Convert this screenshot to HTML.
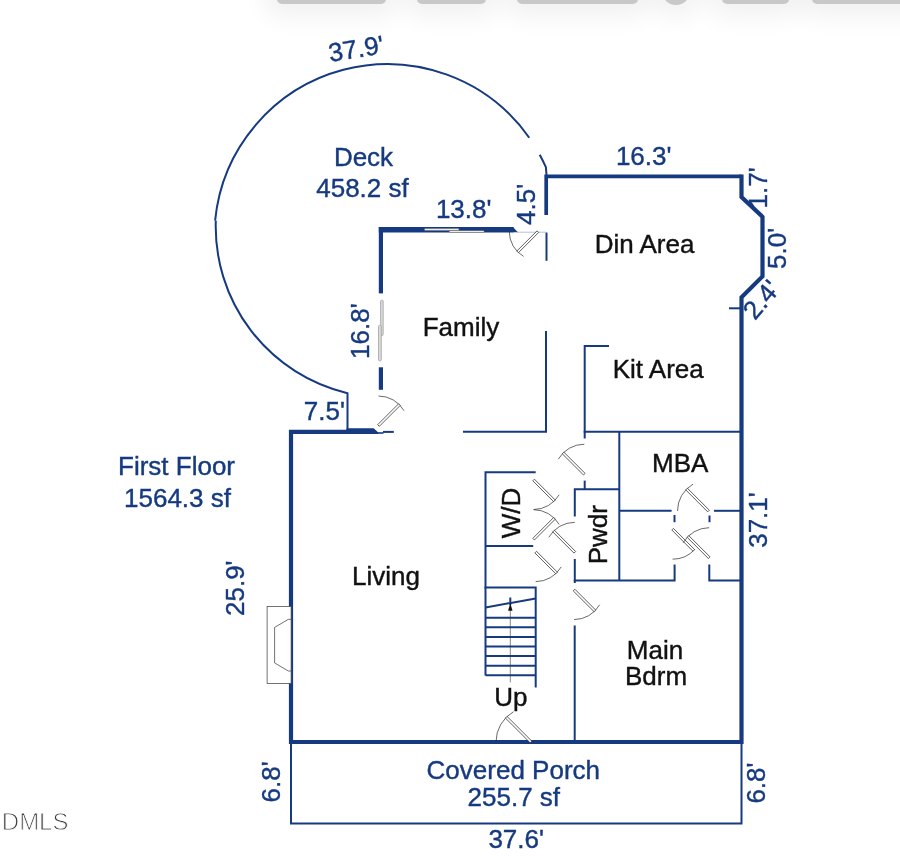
<!DOCTYPE html>
<html lang="en"><head><meta charset="utf-8"><title>First Floor Plan</title>
<style>
html,body{margin:0;padding:0;background:#fff;}
body{width:900px;height:861px;overflow:hidden;position:relative;font-family:"Liberation Sans",sans-serif;}
.top{position:absolute;left:0;top:0;width:900px;height:60px;overflow:hidden;}
.pill{position:absolute;top:-30px;height:34px;border-radius:5px;background:#c8c8c8;box-shadow:0 0 26px 12px rgba(0,0,0,0.06);}
svg{position:absolute;left:0;top:0;will-change:transform;}
svg text{font-family:"Liberation Sans",sans-serif;}
</style></head><body>
<div class="top">
<div class="pill" style="left:277px;width:109px"></div>
<div class="pill" style="left:417px;width:69px"></div>
<div class="pill" style="left:517px;width:121px"></div>
<div class="pill" style="left:662px;width:28px;height:35px;border-radius:14px"></div>
<div class="pill" style="left:722px;width:67px"></div>
<div class="pill" style="left:812px;width:120px"></div>
</div>
<svg width="900" height="861" viewBox="0 0 900 861">
<g fill="none" stroke="#163a80" stroke-width="2" stroke-linecap="butt" stroke-linejoin="miter">
<path d="M215.11 220.59A173.20 173.20 0 0 1 529.26 137.79"/>
<path d="M539.73 154.69A173.20 173.20 0 0 1 545.89 167.22 L546.6 176"/>
<path d="M215.80 220.62A171.30 171.30 0 0 0 347.50 393.18 L347.5 431"/>
<path d="M291 742V823.5H741.5V742"/>
<path d="M546 331V431.8H463"/>
<path d="M546.5 232.5V260.8"/>
<path d="M609 346H584.7V438.5"/>
<path d="M583.7 431.8H741"/>
<path d="M729 308.3H741"/>
<path d="M619.3 431.8V580.5"/>
<path d="M584.7 480.6V489.2"/>
<path d="M574.8 516.6V489.2H619.3"/>
<path d="M574.8 559V583"/>
<path d="M573.8 580.5H674.6V564.6"/>
<path d="M709.3 564.6V580.5H741"/>
<path d="M619.3 510.8H671.6"/>
<path d="M714 510.8H741"/>
<path d="M674.5 515V522.2"/>
<path d="M709.5 515.5V522.2"/>
<path d="M535.7 472.3H485.5V675.5"/>
<path d="M485.5 545.9H533.2"/>
<path d="M484.5 587.6H535.7V687.5"/>
<path d="M485.5 607.4L535.7 598.6"/>
<path d="M485.5 617.80H535.7"/>
<path d="M485.5 627.37H535.7"/>
<path d="M485.5 636.94H535.7"/>
<path d="M485.5 646.51H535.7"/>
<path d="M485.5 656.08H535.7"/>
<path d="M485.5 665.65H535.7"/>
<path d="M485.5 675.22H535.7"/>
<path d="M510.3 597.5V605"/>
<path d="M574.7 625.5V742"/>
<path d="M377.5 433H383.5" stroke-width="1.6"/>
<path d="M383 431.9H393.8"/>
</g>
<path d="M517 232.2H546" stroke="#9fb4d8" stroke-width="0.8" fill="none"/>
<g fill="none" stroke="#163a80" stroke-width="4.2" stroke-linecap="butt" stroke-linejoin="miter">
<path d="M741.5 742H291V431.8H348"/>
<path d="M380.9 293.4V227"/>
<path d="M378.8 229.7H513.5" stroke-width="5.4"/>
<path d="M380.9 367.3V389.8"/>
<path d="M546.2 215V176.3H741.5" stroke-width="3.7"/>
<path d="M741.5 174.45V197L762.5 216.8V276.4L741.5 297.3V744.1"/>
</g>
<path d="M513 227L517.8 232.2H513Z" fill="#163a80"/>
<path d="M346.5 428.3H373.7L378.3 432.5V433.9H346.5Z" fill="#163a80"/>
<g fill="#fff" stroke="#666" stroke-width="0.6">
<rect x="424.5" y="228.6" width="34.4" height="1.8" rx="0.6"/>
<rect x="449.3" y="230.7" width="34.8" height="1.8" rx="0.6"/>
</g>
<g fill="#dadada" stroke="#999" stroke-width="0.7">
<rect x="380.6" y="300.2" width="2.6" height="35.3" rx="1"/>
<rect x="378.5" y="325.4" width="2.8" height="35.4" rx="1"/>
</g>
<rect x="267.1" y="606.5" width="24" height="76.9" fill="#fff" stroke="#444" stroke-width="0.75"/>
<path d="M291 619.4H288.3L274.6 627.4V662.9L288.3 671H291" fill="none" stroke="#444" stroke-width="0.75"/>
<path d="M584.30 444.20A30.00 30.00 0 0 0 558.32 459.20" fill="none" stroke="#2a2a2a" stroke-width="0.7"/>
<rect x="0" y="-1.15" width="30.00" height="2.30" fill="#fff" stroke="#2a2a2a" stroke-width="0.7" transform="translate(584.30 474.20) rotate(-135.00)"/>
<path d="M533.60 509.50A29.50 29.50 0 0 0 559.15 494.75" fill="none" stroke="#2a2a2a" stroke-width="0.7"/>
<rect x="0" y="-1.15" width="29.50" height="2.30" fill="#fff" stroke="#2a2a2a" stroke-width="0.7" transform="translate(533.60 480.00) rotate(45.00)"/>
<path d="M533.60 509.70A29.50 29.50 0 0 1 559.15 524.45" fill="none" stroke="#2a2a2a" stroke-width="0.7"/>
<rect x="0" y="-1.15" width="29.50" height="2.30" fill="#fff" stroke="#2a2a2a" stroke-width="0.7" transform="translate(533.60 539.20) rotate(-45.00)"/>
<path d="M574.80 522.30A30.00 30.00 0 0 0 548.82 537.30" fill="none" stroke="#2a2a2a" stroke-width="0.7"/>
<rect x="0" y="-1.15" width="30.00" height="2.30" fill="#fff" stroke="#2a2a2a" stroke-width="0.7" transform="translate(574.80 552.30) rotate(-135.00)"/>
<path d="M535.70 581.60A29.50 29.50 0 0 0 561.25 566.85" fill="none" stroke="#2a2a2a" stroke-width="0.7"/>
<rect x="0" y="-1.15" width="29.50" height="2.30" fill="#fff" stroke="#2a2a2a" stroke-width="0.7" transform="translate(535.70 552.10) rotate(45.00)"/>
<path d="M574.00 619.60A29.60 29.60 0 0 0 599.63 604.80" fill="none" stroke="#2a2a2a" stroke-width="0.7"/>
<rect x="0" y="-1.15" width="29.60" height="2.30" fill="#fff" stroke="#2a2a2a" stroke-width="0.7" transform="translate(574.00 590.00) rotate(45.00)"/>
<path d="M496.00 742.00A35.00 35.00 0 0 1 513.50 711.69" fill="none" stroke="#2a2a2a" stroke-width="0.7"/>
<rect x="0" y="-1.15" width="35.00" height="2.30" fill="#fff" stroke="#2a2a2a" stroke-width="0.7" transform="translate(531.00 742.00) rotate(225.00)"/>
<path d="M677.50 511.00A31.00 31.00 0 0 1 693.00 484.15" fill="none" stroke="#2a2a2a" stroke-width="0.7"/>
<rect x="0" y="-1.15" width="31.00" height="2.30" fill="#fff" stroke="#2a2a2a" stroke-width="0.7" transform="translate(708.50 511.00) rotate(225.00)"/>
<path d="M672.60 559.20A30.00 30.00 0 0 0 694.89 549.27" fill="none" stroke="#2a2a2a" stroke-width="0.7"/>
<rect x="0" y="-1.15" width="30.00" height="2.30" fill="#fff" stroke="#2a2a2a" stroke-width="0.7" transform="translate(672.60 529.20) rotate(45.00)"/>
<path d="M709.20 527.70A30.00 30.00 0 0 0 683.22 542.70" fill="none" stroke="#2a2a2a" stroke-width="0.7"/>
<rect x="0" y="-1.15" width="30.00" height="2.30" fill="#fff" stroke="#2a2a2a" stroke-width="0.7" transform="translate(709.20 557.70) rotate(-135.00)"/>
<path d="M509.30 231.70A28.50 28.50 0 0 0 523.55 256.38" fill="none" stroke="#2a2a2a" stroke-width="0.7"/>
<rect x="0" y="-1.15" width="28.50" height="2.30" fill="#fff" stroke="#2a2a2a" stroke-width="0.7" transform="translate(537.80 231.70) rotate(135.00)"/>
<path d="M378.50 396.00A29.50 29.50 0 0 1 404.05 410.75" fill="none" stroke="#2a2a2a" stroke-width="0.7"/>
<rect x="0" y="-1.15" width="29.50" height="2.30" fill="#fff" stroke="#2a2a2a" stroke-width="0.7" transform="translate(378.50 425.50) rotate(-45.00)"/>
<path d="M510.3 682.4V609" stroke="#333" stroke-width="0.6" fill="none"/>
<path d="M510.3 603L512.5 610.7H508.1Z" fill="#111"/>
<text x="330" y="62" fill="#163a80" stroke="#163a80" stroke-width="0.4" font-size="26" text-anchor="start" transform="rotate(-9.2 330 62)">37.9'</text>
<text x="363.5" y="165.5" fill="#163a80" stroke="#163a80" stroke-width="0.4" font-size="26" text-anchor="middle">Deck</text>
<text x="362.5" y="197" fill="#163a80" stroke="#163a80" stroke-width="0.4" font-size="26" text-anchor="middle">458.2 sf</text>
<text x="463.7" y="218" fill="#163a80" stroke="#163a80" stroke-width="0.4" font-size="26" text-anchor="middle">13.8'</text>
<text x="534.5" y="225" fill="#163a80" stroke="#163a80" stroke-width="0.4" font-size="26" text-anchor="start" transform="rotate(-90 534.5 225)">4.5'</text>
<text x="643.7" y="165.3" fill="#163a80" stroke="#163a80" stroke-width="0.4" font-size="26" text-anchor="middle">16.3'</text>
<text x="766.5" y="208.5" fill="#163a80" stroke="#163a80" stroke-width="0.4" font-size="26" text-anchor="start" transform="rotate(-90 766.5 208.5)">1.7'</text>
<text x="786.4" y="269" fill="#163a80" stroke="#163a80" stroke-width="0.4" font-size="26" text-anchor="start" transform="rotate(-90 786.4 269)">5.0'</text>
<text x="755" y="321" fill="#163a80" stroke="#163a80" stroke-width="0.4" font-size="26" text-anchor="start" transform="rotate(-50 755 321)">2.4'</text>
<text x="369.5" y="358.9" fill="#163a80" stroke="#163a80" stroke-width="0.4" font-size="26" text-anchor="start" transform="rotate(-90 369.5 358.9)">16.8'</text>
<text x="324.3" y="420.2" fill="#163a80" stroke="#163a80" stroke-width="0.4" font-size="26" text-anchor="middle">7.5'</text>
<text x="176.5" y="475.2" fill="#163a80" stroke="#163a80" stroke-width="0.4" font-size="26" text-anchor="middle">First Floor</text>
<text x="177.5" y="507" fill="#163a80" stroke="#163a80" stroke-width="0.4" font-size="26" text-anchor="middle">1564.3 sf</text>
<text x="243.5" y="616" fill="#163a80" stroke="#163a80" stroke-width="0.4" font-size="26" text-anchor="start" transform="rotate(-90 243.5 616)">25.9'</text>
<text x="280" y="802.5" fill="#163a80" stroke="#163a80" stroke-width="0.4" font-size="26" text-anchor="start" transform="rotate(-90 280 802.5)">6.8'</text>
<text x="765.3" y="803.6" fill="#163a80" stroke="#163a80" stroke-width="0.4" font-size="26" text-anchor="start" transform="rotate(-90 765.3 803.6)">6.8'</text>
<text x="766.8" y="547.8" fill="#163a80" stroke="#163a80" stroke-width="0.4" font-size="26" text-anchor="start" transform="rotate(-90 766.8 547.8)">37.1'</text>
<text x="513.3" y="779" fill="#163a80" stroke="#163a80" stroke-width="0.4" font-size="26" text-anchor="middle">Covered Porch</text>
<text x="513.8" y="805.8" fill="#163a80" stroke="#163a80" stroke-width="0.4" font-size="26" text-anchor="middle">255.7 sf</text>
<text x="516.2" y="848" fill="#163a80" stroke="#163a80" stroke-width="0.4" font-size="26" text-anchor="middle">37.6'</text>
<text x="644.5" y="252.5" fill="#111" stroke="#111" stroke-width="0.4" font-size="26" text-anchor="middle">Din Area</text>
<text x="461" y="335.5" fill="#111" stroke="#111" stroke-width="0.4" font-size="26" text-anchor="middle">Family</text>
<text x="658.2" y="377.8" fill="#111" stroke="#111" stroke-width="0.4" font-size="26" text-anchor="middle">Kit Area</text>
<text x="386" y="584.6" fill="#111" stroke="#111" stroke-width="0.4" font-size="26" text-anchor="middle">Living</text>
<text x="519.6" y="538.3" fill="#111" stroke="#111" stroke-width="0.4" font-size="26" text-anchor="start" transform="rotate(-90 519.6 538.3)">W/D</text>
<text x="607.4" y="564.3" fill="#111" stroke="#111" stroke-width="0.4" font-size="26" text-anchor="start" transform="rotate(-90 607.4 564.3)">Pwdr</text>
<text x="680.2" y="472.3" fill="#111" stroke="#111" stroke-width="0.4" font-size="26" text-anchor="middle">MBA</text>
<text x="655" y="659" fill="#111" stroke="#111" stroke-width="0.4" font-size="26" text-anchor="middle">Main</text>
<text x="656" y="685" fill="#111" stroke="#111" stroke-width="0.4" font-size="26" text-anchor="middle">Bdrm</text>
<text x="510.8" y="705.6" fill="#111" stroke="#111" stroke-width="0.4" font-size="26" text-anchor="middle">Up</text>
<text x="1.8" y="830" font-size="24" fill="#3c3c3c" stroke="#fff" stroke-width="0.9">DMLS</text>
</svg></body></html>
